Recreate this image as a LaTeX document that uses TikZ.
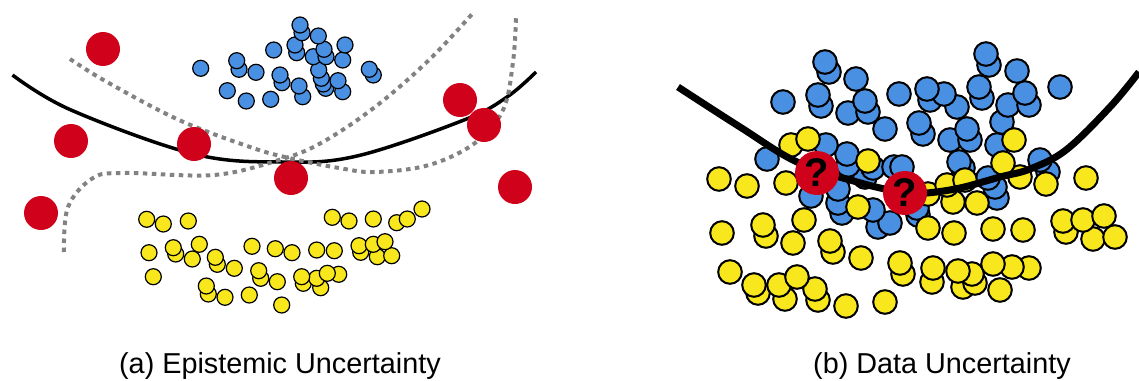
\documentclass[tikz,border=0pt]{standalone}
\usepackage{fontspec}
\setmainfont{Liberation Sans}
\definecolor{cblue}{HTML}{4A90E2}
\definecolor{cyel}{HTML}{F8E71C}
\definecolor{cred}{HTML}{D0021B}
\definecolor{cgray}{HTML}{828282}
\begin{document}
\begin{tikzpicture}[x=1pt,y=-1pt,
  lpt/.style={draw=black,line width=1.2pt,fill=#1},
  rpt/.style={draw=black,line width=2pt,fill=#1},
  redpt/.style={fill=cred},
  bound/.style={draw=black,line width=3.5pt,line cap=butt},
  boundr/.style={draw=black,line width=7pt},
  dashb/.style={draw=cgray,line width=4pt,dash pattern=on 4.5pt off 4.5pt},
  qmark/.style={circle,fill=cred,minimum size=44pt,inner sep=0pt,font=\fontsize{40}{40}\selectfont\bfseries},
  captxt/.style={anchor=base,font=\fontsize{28.8}{34}\selectfont}]
\useasboundingbox (0,0) rectangle (1139,380);
% ---------- left panel ----------
\foreach \x/\y in {246.3/101,270.7/99.3,302.7/96.7,342.7/91.7,227.3/90.7,325.7/88.3,299/86,323.3/84,282/82.7,338/80.7,321.3/78.3,280/75,373.3/75,256/72.3,318.7/70,239/69.3,369.3/69.3,200.7/68.3,236.7/60.7,342.7/60,313.3/56.7,326/56.7,296.7/52.7,273.7/50,324/49.3,295/45,345/45,318.3/36,302/32.7,300/25}
  \draw[lpt=cblue] (\x,\y) circle[radius=8pt];
\foreach \x/\y in {281.7/305,225/297.3,249.3/295,208.3/294,320.7/287.7,206.3/286,303.3/283.3,277.3/281.7,260.7/278.3,316.7/278.3,153.3/276.7,301.7/276.7,338.7/274.3,327.3/273.3,258.7/270.7,234.3/268.3,217.3/264.3,192.3/259,215.3/257.3,377.3/256.7,391.7/255.7,175.7/254,149/252.7,292/252.7,360.7/252.3,334.3/250.7,316.7/250,275.3/248.7,173.3/247.7,252/246.3,359/245.7,199.3/244.3,373.3/244.3,385/241.7,163.3/224,396.7/222.7,188.3/221,349/221,146.7/219.3,373.3/219,407.3/219,332.3/217.3,422/209}
  \draw[lpt=cyel] (\x,\y) circle[radius=8pt];
\draw[bound] plot[smooth,tension=0.6] coordinates {(12.5,75) (71,110) (194,154) (282,162) (357,156) (464,120) (507,97) (536,72)};
\draw[dashb] plot[smooth,tension=0.6] coordinates {(70,59) (107,82) (179,120) (250,147) (289,158) (339,168) (375,172) (429,165) (475,143) (503,110) (513,62) (516,18)};
\draw[dashb] plot[smooth,tension=0.6] coordinates {(64,252) (68,207) (93,178) (125,173) (214,175) (279,160) (321,143) (375,107) (429,60) (473,13)};
\foreach \x/\y in {103/49,71/141,194/144,291/178,41/213,460/100,484/125,515/187}
  \fill[redpt] (\x,\y) circle[radius=17pt];
% ---------- right panel ----------
\foreach \x/\y in {878/227,890/223,918/215,842/213,873/210,917/208,838/203,997/198,811/196,838/189,995/187,988/178,865/177,1048/172,873/168,963/168,894/167,902/167,848/165,959/162,1040/160,767/159,847/154,997/145,826/145,950/140,970/140,923/134,885/129,967/129,919/123,1002/122,848/113,868/112,957/107,821/106,1008/105,1029/105,783/102,865/101,930/100,982/98,818/95,899/94,944/94,1025/93,927/89,979/87,1060/87,856/79,829/72,1017/71,989/65,825/62,986/54}
  \draw[rpt=cblue] (\x,\y) circle[radius=11.8pt];
\foreach \x/\y in {846/306,885/302,818/300,785/299,758/293,1000/290,815/289,963/287,754/285,779/285,975/283,932/282,797/277,903/274,972/274,730/272,958/271,933/268,1029/268,1012/267,993/264,900/263,861/258,833/252,793/243,830/241,1093/239,1115/237,766/236,722/233,954/233,1066/232,1023/230,993/229,928/228,763/225,1063/221,804/220,1083/220,1104/216,858/207,977/203,953/202,928/194,747/186,947/185,1046/184,786/183,965/180,719/179,1086/178,1020/177,1003/163,868/161,791/145,1014/140,808/139}
  \draw[rpt=cyel] (\x,\y) circle[radius=11.8pt];
\draw[boundr] plot[smooth,tension=0.6] coordinates {(678,87) (740,127) (797,162) (857,182) (905,193) (927,193) (960,188) (1000,177) (1030,169) (1066,150) (1110,107) (1139,72)};
\node[qmark] (q1) at (817,173) {?};
\node[qmark] (q2) at (905,193) {?};
% ---------- captions ----------
\node[captxt] (ca) at (280,373) {(a) Epistemic Uncertainty};
\node[captxt] (cb) at (942,373) {(b) Data Uncertainty};
\end{tikzpicture}
\end{document}
